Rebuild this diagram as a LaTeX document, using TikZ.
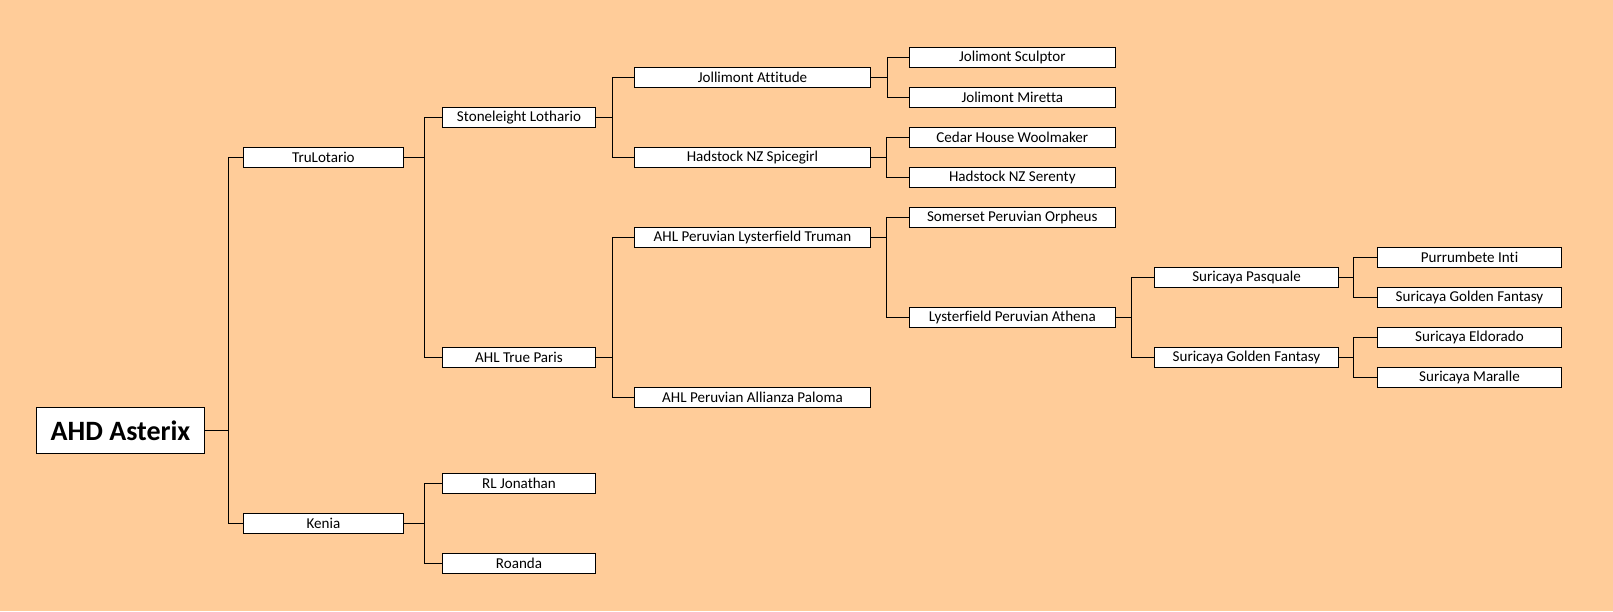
\documentclass[tikz,border=0pt]{standalone}
\usepackage{fontspec}
\setmainfont{Carlito}[Ligatures=NoCommon]
\usepackage{tikz}

\definecolor{peach}{HTML}{FFCC99}

\tikzset{
  box/.style={draw, fill=white, line width=0.75pt, inner sep=0pt, minimum height=15pt, font=\fontsize{11.3}{13}\selectfont},
  colone/.style={box, minimum width=120.2pt},
  coltwo/.style={box, minimum width=115pt},
  colthree/.style={box, minimum width=177.3pt},
  colfour/.style={box, minimum width=154.5pt},
  colfive/.style={box, minimum width=138.3pt},
  link/.style={line width=0.75pt}
}

\begin{document}
\begin{tikzpicture}[x=0.75pt,y=-0.75pt]
			\fill[peach] (0,0) rectangle (1613,611);
			\useasboundingbox (0,0) rectangle (1613,611);
			\node[box, minimum width=125.7pt, minimum height=34.5pt, font=\fontsize{21}{25}\selectfont\bfseries] (asterix) at (120.5,430.3) {AHD Asterix};
			\foreach \n/\y/\t in {trulo/157.3/TruLotario, kenia/523.3/Kenia}
			\node[colone] (\n) at (323.4,\y) {\t};
			\foreach \n/\y/\t in {stone/117.3/Stoneleight Lothario, paris/357.3/AHL True Paris, rljon/483.3/RL Jonathan, roanda/563.3/Roanda}
			\node[coltwo] (\n) at (519,\y) {\t};
			\foreach \n/\y/\t in {attitude/77.3/Jollimont Attitude, spicegirl/157.3/Hadstock NZ Spicegirl, truman/237.3/AHL Peruvian Lysterfield Truman, paloma/397.3/AHL Peruvian Allianza Paloma}
			\node[colthree] (\n) at (752.5,\y) {\t};
			\foreach \n/\y/\t in {sculptor/57.3/Jolimont Sculptor, miretta/97.3/Jolimont Miretta, woolmaker/137.3/Cedar House Woolmaker, serenty/177.3/Hadstock NZ Serenty, orpheus/217.3/Somerset Peruvian Orpheus, athena/317.3/Lysterfield Peruvian Athena}
			\node[colfour] (\n) at (1012.3,\y) {\t};
			\foreach \n/\y/\t in {pasquale/277.3/Suricaya Pasquale, fantasy/357.3/Suricaya Golden Fantasy}
			\node[colfive] (\n) at (1246.5,\y) {\t};
			\foreach \n/\y/\t in {inti/257.3/Purrumbete Inti, goldfan/297.3/Suricaya Golden Fantasy, eldorado/337.3/Suricaya Eldorado, maralle/377.3/Suricaya Maralle}
			\node[colfive] (\n) at (1469.5,\y) {\t};
			\foreach \p/\c/\d in {asterix/trulo/23.7, asterix/kenia/23.7, trulo/stone/20, trulo/paris/20, kenia/rljon/20, kenia/roanda/20, stone/attitude/16, stone/spicegirl/16, paris/truman/16, paris/paloma/16, attitude/sculptor/16.5, attitude/miretta/16.5, spicegirl/woolmaker/15, spicegirl/serenty/15, truman/orpheus/15, truman/athena/15, athena/pasquale/15.4, athena/fantasy/15.4, pasquale/inti/14.6, pasquale/goldfan/14.6, fantasy/eldorado/14.6, fantasy/maralle/14.6}
			\draw[link] (\p.east) -- ++(\d,0) |- (\c.west);
	\end{tikzpicture}
\end{document}
